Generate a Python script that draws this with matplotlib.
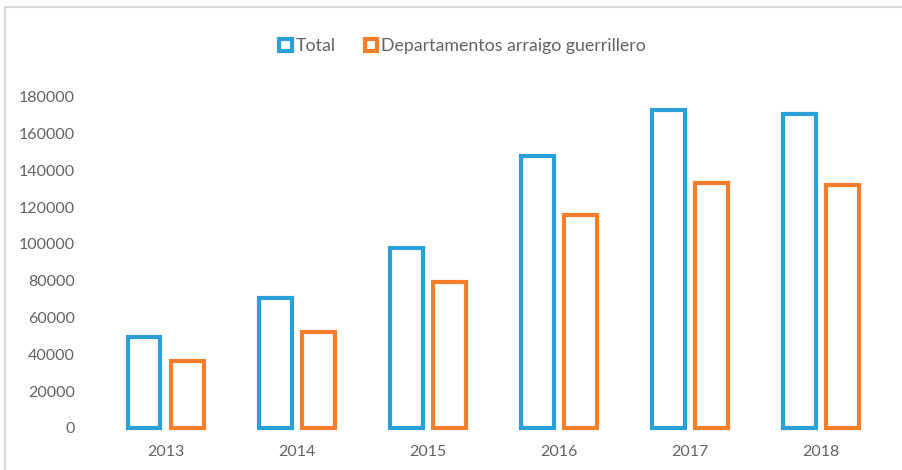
import matplotlib.pyplot as plt
import numpy as np
from matplotlib.patches import Patch, Rectangle

# Data
years = ["2013", "2014", "2015", "2016", "2017", "2018"]
total = [49500, 70500, 98000, 147500, 172500, 170500]
arraigo = [36600, 52400, 79200, 115800, 133000, 132000]
yticks = [0, 20000, 40000, 60000, 80000, 100000, 120000, 140000, 160000, 180000]

BLUE = "#2a9fd8"
ORANGE = "#f47f2a"
GREY = "#636363"

plt.rcParams['font.family'] = ['Lato', 'DejaVu Sans']

fig = plt.figure(figsize=(9.02, 4.70), dpi=100)
# light frame around the chart
fig.patches.append(Rectangle((0.005, -0.01), 1.1, 0.995, transform=fig.transFigure,
                             fill=False, edgecolor="#d9d9d9", linewidth=1.5))

ax = fig.add_axes([0.111, 0.0894, 0.872, 0.705])
x = np.arange(len(years))
w = 0.25
gap = 0.04
ax.bar(x - w / 2 - gap, total, width=w, facecolor="white", edgecolor=BLUE,
       linewidth=3, clip_on=False)
ax.bar(x + w / 2 + gap, arraigo, width=w, facecolor="white", edgecolor=ORANGE,
       linewidth=3, clip_on=False)

ax.set_xlim(-0.5, len(years) - 0.5)
ax.set_ylim(0, 180000)
ax.set_yticks(yticks)
ax.set_yticklabels([str(v) for v in yticks], fontsize=11.5, color=GREY)
ax.set_xticks(x)
ax.set_xticklabels(years, fontsize=11.5, color=GREY)
ax.tick_params(length=0)
ax.tick_params(axis='y', pad=18)
ax.tick_params(axis='x', pad=12)
for s in ax.spines.values():
    s.set_visible(False)

handles = [Patch(facecolor="white", edgecolor=BLUE, linewidth=3, label="Total"),
           Patch(facecolor="white", edgecolor=ORANGE, linewidth=3,
                 label="Departamentos arraigo guerrillero")]
fig.legend(handles=handles, loc="center", bbox_to_anchor=(0.513, 0.902), ncol=2,
           frameon=False, fontsize=12.8, handlelength=0.7, handleheight=0.7,
           handletextpad=0.25, columnspacing=1.6, labelcolor=GREY)

fig.savefig("out.png", dpi=100)
